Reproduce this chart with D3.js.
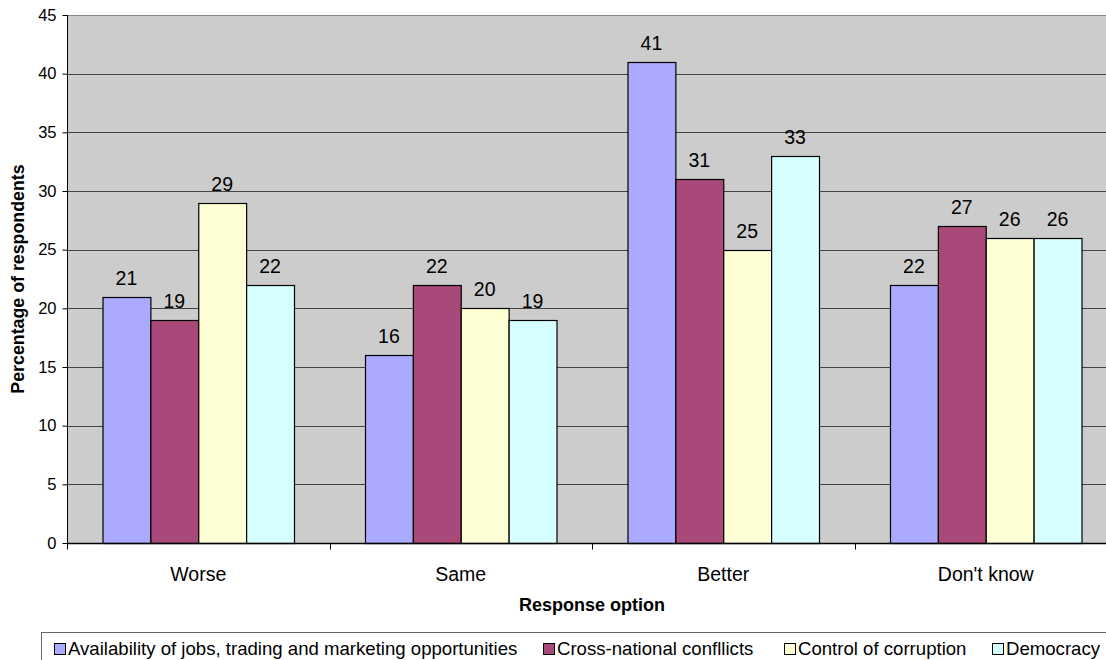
<!DOCTYPE html>
<html>
<head>
<meta charset="utf-8">
<script src="https://cdn.jsdelivr.net/npm/d3@7"></script>
<style>
  html, body { margin: 0; padding: 0; background: #fff; }
  svg { display: block; font-family: Arial, "Liberation Sans", sans-serif; }
</style>
</head>
<body>
<svg id="chart" width="1106" height="660"></svg>
<script>
// Response options along the x axis
const categories = ["Worse", "Same", "Better", "Don't know"];
// Series shown in the legend
const seriesNames = [
  "Availability of jobs, trading and marketing opportunities",
  "Cross-national confllicts",
  "Control of corruption",
  "Democracy"
];
const seriesColors = ["#AAAAFF", "#A8497A", "#FFFFD6", "#D6FFFF"];
// Percentages per series, in category order
const jobs       = [21, 16, 41, 22];
const conflicts  = [19, 22, 31, 27];
const corruption = [29, 20, 25, 26];
const democracy  = [22, 19, 33, 26];
const seriesValues = [jobs, conflicts, corruption, democracy];
const yTicks = [0, 5, 10, 15, 20, 25, 30, 35, 40, 45];

const svg = d3.select("#chart");
const plot = { left: 67, top: 15, right: 1117, bottom: 543 };

const y = d3.scaleLinear().domain([0, 45]).range([plot.bottom, plot.top]);
const x0 = d3.scaleBand().domain(categories).range([plot.left, plot.right]).padding(0);
const bw = x0.bandwidth();
const gap = bw * 71 / 262.5;
const x1 = d3.scaleBand().domain(d3.range(seriesNames.length)).range([gap / 2, bw - gap / 2]).padding(0);

// Plot background
svg.append("rect")
  .attr("x", plot.left).attr("y", plot.top)
  .attr("width", plot.right - plot.left).attr("height", plot.bottom - plot.top)
  .attr("fill", "#CCCCCC");

// Horizontal gridlines
svg.append("g")
  .selectAll("line")
  .data(yTicks.filter(t => t > 0))
  .join("line")
  .attr("x1", plot.left).attr("x2", plot.right)
  .attr("y1", d => Math.round(y(d)) + 0.5).attr("y2", d => Math.round(y(d)) + 0.5)
  .attr("stroke", d => d === 45 ? "#888" : "#444")
  .attr("stroke-width", 1);

// Bars
const groups = svg.append("g")
  .selectAll("g")
  .data(categories)
  .join("g")
  .attr("transform", d => `translate(${x0(d)},0)`);

groups.each(function (cat, ci) {
  const g = d3.select(this);
  const rows = seriesValues.map((vals, si) => ({ si, v: vals[ci] }));
  g.selectAll("rect")
    .data(rows)
    .join("rect")
    .attr("x", d => x1(d.si) + 0.5)
    .attr("y", d => Math.round(y(d.v)) + 0.5)
    .attr("width", x1.bandwidth())
    .attr("height", d => y(0) - Math.round(y(d.v)))
    .attr("fill", d => seriesColors[d.si])
    .attr("stroke", "#000")
    .attr("stroke-width", 1.2);
  g.selectAll("text.val")
    .data(rows)
    .join("text")
    .attr("class", "val")
    .attr("x", d => x1(d.si) + x1.bandwidth() / 2)
    .attr("y", d => y(d.v) - 12)
    .attr("text-anchor", "middle")
    .attr("font-size", 19.5)
    .attr("fill", "#000")
    .text(d => d.v);
});

// Y axis
const yAxis = d3.axisLeft(y).tickValues(yTicks).tickSize(5).tickPadding(6).tickFormat(d3.format("d"));
const yg = svg.append("g").attr("transform", `translate(${plot.left + 0.5},0)`).call(yAxis);
yg.select(".domain").attr("stroke", "#000").attr("d", `M0,${plot.top}V${plot.bottom}`);
yg.selectAll(".tick line").attr("stroke", "#000");
yg.selectAll(".tick text").attr("font-size", 16.5).attr("fill", "#000").attr("font-family", "Arial, 'Liberation Sans', sans-serif");

// X axis with boundary ticks between categories
const xg = svg.append("g").attr("transform", `translate(0,${plot.bottom + 0.5})`);
xg.append("line").attr("x1", plot.left).attr("x2", plot.right).attr("stroke", "#000").attr("stroke-width", 1.3);
xg.selectAll("line.tk")
  .data(categories.concat(["end"]))
  .join("line")
  .attr("class", "tk")
  .attr("x1", (d, i) => Math.round(plot.left + i * bw) + 0.5)
  .attr("x2", (d, i) => Math.round(plot.left + i * bw) + 0.5)
  .attr("y1", 0).attr("y2", 6)
  .attr("stroke", "#000");
xg.selectAll("text")
  .data(categories)
  .join("text")
  .attr("x", d => x0(d) + bw / 2)
  .attr("y", 37)
  .attr("text-anchor", "middle")
  .attr("font-size", 19.5)
  .attr("fill", "#000")
  .text(d => d);

// Axis titles
svg.append("text")
  .attr("x", 592).attr("y", 611)
  .attr("text-anchor", "middle")
  .attr("font-size", 18).attr("font-weight", "bold")
  .text("Response option");

svg.append("text")
  .attr("transform", `translate(24,${(plot.top + plot.bottom) / 2}) rotate(-90)`)
  .attr("text-anchor", "middle")
  .attr("font-size", 17.8).attr("font-weight", "bold")
  .text("Percentage of respondents");

// Legend
const legend = svg.append("g");
legend.append("rect")
  .attr("x", 41.5).attr("y", 632.5)
  .attr("width", 1100).attr("height", 40)
  .attr("fill", "#fff").attr("stroke", "#666").attr("stroke-width", 1);

const legendX = [54, 543, 784, 992];
const items = legend.selectAll("g.item")
  .data(seriesNames)
  .join("g")
  .attr("class", "item")
  .attr("transform", (d, i) => `translate(${legendX[i]},0)`);
items.append("rect")
  .attr("x", 0.5).attr("y", 643.5)
  .attr("width", 11).attr("height", 11)
  .attr("fill", (d, i) => seriesColors[i])
  .attr("stroke", "#000");
items.append("text")
  .attr("x", 14).attr("y", 655)
  .attr("font-size", 18.6)
  .attr("fill", "#000")
  .text(d => d);
</script>
</body>
</html>
